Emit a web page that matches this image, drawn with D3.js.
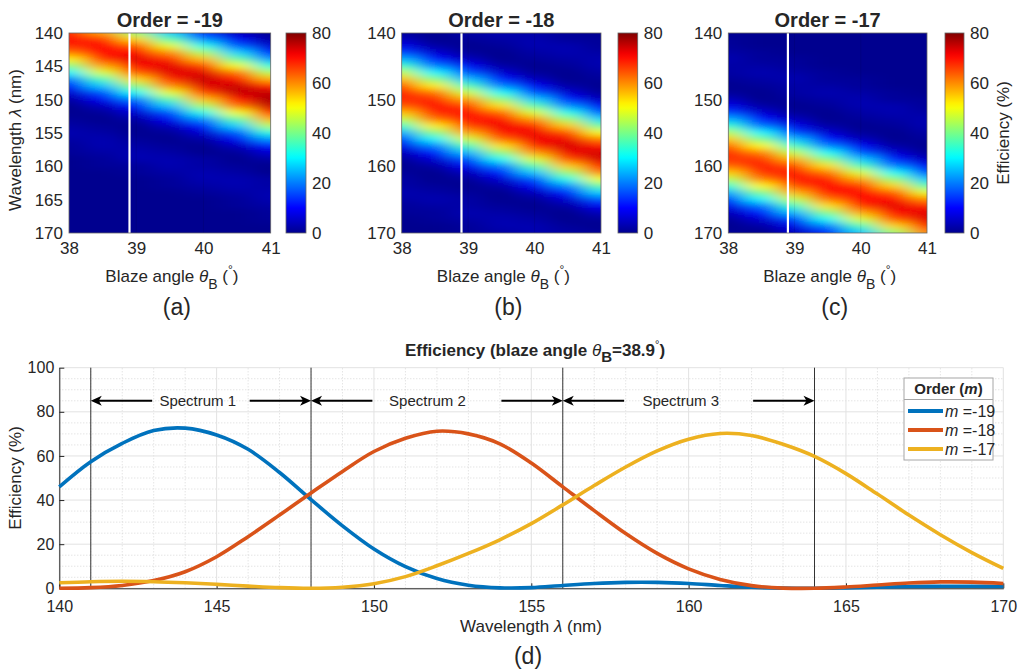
<!DOCTYPE html>
<html>
<head>
<meta charset="utf-8">
<script src="https://cdn.jsdelivr.net/npm/d3@7"></script>
<style>
body { margin: 0; background: #fff; }
text { font-family: "Liberation Sans", Arial, Helvetica, sans-serif; fill: #262626; }
</style>
</head>
<body>
<svg id="fig" width="1019" height="669"></svg>
<script>
// ---- heat map data: rows = wavelength (nm), columns = blaze angle (deg) ----
var blazeAngles = [38, 38.5, 39, 39.5, 40, 40.5, 41];
var mapWavelengths = [140, 141, 142, 143, 144, 145, 146, 147, 148, 149, 150, 151, 152, 153, 154, 155,
                      156, 157, 158, 159, 160, 161, 162, 163, 164, 165, 166, 167, 168, 169, 170];

var effOrder19 = [
  [68,58,42,26,12,4,0], [70,67,54,37,21,9,2], [68,71,64,49,32,17,6], [62,71,71,60,44,27,12],
  [52,67,73,68,56,38,22], [41,58,71,73,66,50,33], [30,48,64,73,73,62,45], [20,36,54,68,75,70,57],
  [11,26,42,60,73,75,68], [6,16,31,49,66,75,75], [2,9,20,37,56,70,77], [0,4,12,26,44,62,75],
  [0,1,6,16,32,50,68], [1,0,2,9,21,38,57], [2,1,0,4,12,27,45], [3,2,0,1,6,17,33],
  [2,3,1,0,2,9,22], [1,3,2,1,0,4,12], [1,2,3,2,0,1,6], [0,1,3,3,2,0,2],
  [0,1,1,3,2,1,0], [0,0,1,2,3,2,0], [0,0,0,1,3,3,2], [0,0,0,1,2,3,2],
  [0,0,0,0,1,2,3], [0,0,0,0,0,1,3], [0,0,0,0,0,1,2], [0,0,0,0,0,0,1],
  [0,0,0,0,0,0,1], [0,0,0,0,0,0,0], [0,0,0,0,0,0,0]
];
var effOrder18 = [
  [1,0,2,3,2,1,0], [4,0,1,2,3,1,1], [8,2,0,1,3,3,1], [15,6,1,0,2,3,2],
  [24,11,4,0,1,2,3], [35,20,9,2,0,1,3], [46,30,16,6,1,0,2], [56,41,25,12,4,0,1],
  [64,52,36,20,9,2,0], [68,62,47,31,16,6,1], [68,68,58,42,26,12,4], [64,70,66,53,37,21,9],
  [56,68,70,63,48,32,17], [46,62,70,70,59,43,27], [35,52,66,72,68,55,38], [24,41,58,70,72,65,50],
  [15,30,47,63,72,72,61], [8,20,36,53,68,74,69], [4,11,25,42,59,72,74], [1,6,16,31,48,65,74],
  [0,2,9,20,37,55,69], [1,0,4,12,26,43,61], [2,0,1,6,16,32,50], [2,1,0,2,9,21,38],
  [3,2,1,0,4,12,27], [2,3,2,0,1,6,17], [1,2,2,1,0,2,9], [1,1,3,2,1,0,4],
  [0,1,2,3,2,0,1], [0,0,1,3,3,1,0], [0,0,1,2,3,2,1]
];
var effOrder17 = [
  [0,0,0,0,0,0,0], [1,0,0,0,0,0,0], [1,0,0,0,0,0,0], [2,1,0,0,0,0,0],
  [3,1,1,0,0,0,0], [2,2,1,0,0,0,0], [2,3,2,1,0,0,0], [1,2,3,1,1,0,0],
  [0,1,2,2,1,0,0], [1,0,2,3,2,1,0], [4,0,1,2,3,1,1], [8,2,0,1,3,3,1],
  [15,6,1,0,2,3,2], [24,11,4,0,1,2,3], [34,19,8,2,0,1,3], [45,30,15,6,1,0,2],
  [55,40,25,11,4,0,1], [63,51,35,20,9,2,0], [67,61,46,31,16,6,1], [67,67,57,41,26,12,4],
  [63,69,65,53,36,20,9], [55,67,69,62,48,31,16], [45,61,69,69,58,42,26], [34,51,65,71,67,54,37],
  [24,40,57,69,71,64,49], [15,30,46,62,71,71,60], [8,19,35,53,67,73,68], [4,11,25,41,58,71,73],
  [1,6,15,31,48,64,73], [0,2,8,20,36,54,68], [1,0,4,11,26,42,60]
];

var orderTitles = ["Order = -19", "Order = -18", "Order = -17"];
var panelTags = ["(a)", "(b)", "(c)", "(d)"];
var mapXTicks = [38, 39, 40, 41];
var mapYTicksA = [140, 145, 150, 155, 160, 165, 170];
var mapYTicksBC = [140, 150, 160, 170];
var colorTicks = [0, 20, 40, 60, 80];
var selectedBlaze = 38.9;

// ---- line chart data (blaze angle 38.9 deg) ----
var wavelengths = [140, 141, 142, 143, 144, 145, 146, 147, 148, 149, 150, 151, 152, 153, 154, 155,
                   156, 157, 158, 159, 160, 161, 162, 163, 164, 165, 166, 167, 168, 169, 170];
var effM19 = [46, 57.4, 65.7, 71.5, 72.6, 69.5, 63, 52.5, 40.2, 28.3, 17.8, 9.8, 4.4, 1.4, 0.2, 0.3,
              1.3, 2.2, 2.7, 2.7, 2.2, 1.3, 0.5, 0.1, 0, 0.2, 0.5, 0.8, 0.9, 0.9, 0.8];
var effM18 = [0, 0.3, 1.3, 3.5, 7.5, 14.3, 23.4, 33.2, 43.2, 53, 62, 68, 71.2, 70, 65.5, 56.8,
              46, 35.2, 24.8, 15.8, 8.8, 4, 1.2, 0.1, 0, 0.6, 1.5, 2.4, 2.9, 2.8, 2.2];
var effM17 = [2.5, 3, 3.2, 3, 2.5, 1.8, 1, 0.3, 0, 0.5, 2.1, 5.3, 10.2, 15.8, 22, 29.3,
              37.8, 46.6, 55, 62.3, 67.6, 70.2, 69.3, 65.3, 59.8, 52, 42.7, 33.2, 24.3, 16.2, 9];
var seriesNames = ["=-19", "=-18", "=-17"];
var seriesColors = ["#0072bd", "#d95319", "#edb120"];
var lineXTicks = [140, 145, 150, 155, 160, 165, 170];
var lineYTicks = [0, 20, 40, 60, 80, 100];
var spectrumEdges = [141, 148, 156, 164];
var spectrumLabels = ["Spectrum 1", "Spectrum 2", "Spectrum 3"];
var spectrumLabelAt = [144.4, 151.7, 159.75];

var svg = d3.select("#fig");
var defs = svg.append("defs");

// MATLAB jet
var jet = d3.scaleLinear()
    .domain([0, 10, 30.5, 50.8, 71, 80])
    .range(["#00008f", "#0000ff", "#00ffff", "#ffff00", "#ff0000", "#800000"])
    .clamp(true);

var mapTop = 33, mapBottom = 233;
var panels = [
  {left: 69, right: 270.7, cbLeft: 286, cbRight: 306, data: effOrder19, yTicks: mapYTicksA},
  {left: 401.7, right: 601, cbLeft: 618, cbRight: 637.7, data: effOrder18, yTicks: mapYTicksBC},
  {left: 728.3, right: 927, cbLeft: 945, cbRight: 964, data: effOrder17, yTicks: mapYTicksBC}
];

// colour bar gradient
var grad = defs.append("linearGradient").attr("id", "jetGrad")
    .attr("x1", 0).attr("y1", 1).attr("x2", 0).attr("y2", 0);
grad.selectAll("stop").data(d3.range(0, 81, 2)).enter().append("stop")
    .attr("offset", function(d) { return d / 80; })
    .attr("stop-color", function(d) { return jet(d); });

panels.forEach(function(p, i) {
  var x = d3.scaleLinear().domain([38, 41]).range([p.left, p.right]);
  var y = d3.scaleLinear().domain([140, 170]).range([mapTop, mapBottom]);
  var g = svg.append("g");

  defs.append("clipPath").attr("id", "clip" + i)
    .append("rect")
      .attr("x", p.left).attr("y", mapTop)
      .attr("width", p.right - p.left).attr("height", mapBottom - mapTop);
  var filt = defs.append("filter").attr("id", "smooth" + i)
      .attr("filterUnits", "userSpaceOnUse")
      .attr("x", p.left - 70).attr("y", mapTop - 70)
      .attr("width", p.right - p.left + 140).attr("height", mapBottom - mapTop + 140);
  filt.append("feGaussianBlur").attr("stdDeviation", "11 3");

  var cells = [];
  p.data.forEach(function(row, r) {
    row.forEach(function(v, c) { cells.push({r: r, c: c, v: v}); });
  });
  var hA = (blazeAngles[1] - blazeAngles[0]) / 2;
  var hW = (mapWavelengths[1] - mapWavelengths[0]) / 2;
  var nC = blazeAngles.length - 1, nR = mapWavelengths.length - 1;

  g.append("g").attr("clip-path", "url(#clip" + i + ")")
    .append("g").attr("filter", "url(#smooth" + i + ")")
    .selectAll("rect").data(cells).enter().append("rect")
      .attr("x", function(d) { return x(blazeAngles[d.c] - hA) - (d.c === 0 ? 60 : 0.5); })
      .attr("width", function(d) {
        var w = x(blazeAngles[d.c] + hA) - x(blazeAngles[d.c] - hA) + 1;
        if (d.c === 0) w += 60;
        if (d.c === nC) w += 60;
        return w;
      })
      .attr("y", function(d) { return y(mapWavelengths[d.r] - hW) - (d.r === 0 ? 60 : 0.5); })
      .attr("height", function(d) {
        var h = y(mapWavelengths[d.r] + hW) - y(mapWavelengths[d.r] - hW) + 1;
        if (d.r === 0) h += 60;
        if (d.r === nR) h += 60;
        return h;
      })
      .attr("fill", function(d) { return jet(d.v); });

  // faint grid
  g.selectAll(".gx").data(mapXTicks.slice(1, -1)).enter().append("line")
      .attr("x1", function(d) { return x(d); }).attr("x2", function(d) { return x(d); })
      .attr("y1", mapTop).attr("y2", mapBottom)
      .attr("stroke", "#000").attr("stroke-opacity", 0.12).attr("stroke-width", 0.8);

  // selected blaze angle
  g.append("line")
      .attr("x1", x(selectedBlaze)).attr("x2", x(selectedBlaze))
      .attr("y1", mapTop).attr("y2", mapBottom)
      .attr("stroke", "#fff").attr("stroke-width", 2.2);

  g.append("rect")
      .attr("x", p.left).attr("y", mapTop)
      .attr("width", p.right - p.left).attr("height", mapBottom - mapTop)
      .attr("fill", "none").attr("stroke", "#666").attr("stroke-width", 0.8);

  var xa = g.append("g").attr("transform", "translate(0," + mapBottom + ")")
      .call(d3.axisBottom(x).tickValues(mapXTicks).tickSize(0).tickPadding(9).tickFormat(d3.format("d")));
  xa.select(".domain").remove();
  xa.selectAll("text").style("font-size", "17px").attr("fill", "#262626");

  var ya = g.append("g").attr("transform", "translate(" + p.left + ",0)")
      .call(d3.axisLeft(y).tickValues(p.yTicks).tickSize(0).tickPadding(6).tickFormat(d3.format("d")));
  ya.select(".domain").remove();
  ya.selectAll("text").style("font-size", "17px").attr("fill", "#262626");

  var cx = (p.left + p.right) / 2;
  g.append("text").attr("x", cx).attr("y", 27).attr("text-anchor", "middle")
      .style("font-size", "20px").style("font-weight", "bold").attr("fill", "#000")
      .text(orderTitles[i]);

  var xl = g.append("text").attr("x", cx + 2).attr("y", 282).attr("text-anchor", "middle")
      .style("font-size", "17px");
  xl.append("tspan").text("Blaze angle ");
  xl.append("tspan").style("font-style", "italic").text("\u03B8");
  xl.append("tspan").attr("dy", 7).style("font-size", "14px").text("B");
  xl.append("tspan").attr("dy", -7).text(" (");
  xl.append("tspan").attr("dy", -8).style("font-size", "12px").text("\u00B0");
  xl.append("tspan").attr("dy", 8).text(")");

  g.append("text").attr("x", cx + 7).attr("y", 315).attr("text-anchor", "middle")
      .style("font-size", "23px").text(panelTags[i]);

  // colour bar
  var cy = d3.scaleLinear().domain([0, 80]).range([mapBottom, mapTop]);
  g.append("rect")
      .attr("x", p.cbLeft).attr("y", mapTop)
      .attr("width", p.cbRight - p.cbLeft).attr("height", mapBottom - mapTop)
      .attr("fill", "url(#jetGrad)").attr("stroke", "#666").attr("stroke-width", 0.8);
  var ca = g.append("g").attr("transform", "translate(" + p.cbRight + ",0)")
      .call(d3.axisRight(cy).tickValues(colorTicks).tickSize(0).tickPadding(6));
  ca.select(".domain").remove();
  ca.selectAll("text").style("font-size", "17px").attr("fill", "#262626");
});

// y label of (a) and colour bar label of (c)
svg.append("text").attr("transform", "translate(21,140) rotate(-90)")
    .attr("text-anchor", "middle").style("font-size", "17px")
    .call(function(t) {
      t.append("tspan").text("Wavelength ");
      t.append("tspan").style("font-style", "italic").text("\u03BB");
      t.append("tspan").text(" (nm)");
    });
svg.append("text").attr("transform", "translate(1009,133) rotate(-90)")
    .attr("text-anchor", "middle").style("font-size", "17px")
    .text("Efficiency (%)");

// ---- line chart (d) ----
var lx = d3.scaleLinear().domain([140, 170]).range([59.3, 1003.3]);
var ly = d3.scaleLinear().domain([0, 100]).range([588.3, 367.7]);
var lg = svg.append("g");

var minorX = d3.range(140, 171, 1).filter(function(d) { return d % 5 !== 0; });
var minorY = d3.range(0, 101, 5).filter(function(d) { return d % 20 !== 0; });
lg.selectAll(".mx").data(minorX).enter().append("line")
    .attr("x1", function(d) { return lx(d); }).attr("x2", function(d) { return lx(d); })
    .attr("y1", ly(0)).attr("y2", ly(100))
    .attr("stroke", "#cfcfcf").attr("stroke-width", 0.8).attr("stroke-dasharray", "1,2");
lg.selectAll(".my").data(minorY).enter().append("line")
    .attr("y1", function(d) { return ly(d); }).attr("y2", function(d) { return ly(d); })
    .attr("x1", lx(140)).attr("x2", lx(170))
    .attr("stroke", "#cfcfcf").attr("stroke-width", 0.8).attr("stroke-dasharray", "1,2");
lg.selectAll(".gx").data(lineXTicks).enter().append("line")
    .attr("x1", function(d) { return lx(d); }).attr("x2", function(d) { return lx(d); })
    .attr("y1", ly(0)).attr("y2", ly(100))
    .attr("stroke", "#e2e2e2").attr("stroke-width", 1);
lg.selectAll(".gy").data(lineYTicks).enter().append("line")
    .attr("y1", function(d) { return ly(d); }).attr("y2", function(d) { return ly(d); })
    .attr("x1", lx(140)).attr("x2", lx(170))
    .attr("stroke", "#e2e2e2").attr("stroke-width", 1);

var xAxis = lg.append("g").attr("transform", "translate(0," + ly(0) + ")")
    .call(d3.axisBottom(lx).tickValues(lineXTicks).tickSizeInner(-5).tickSizeOuter(0).tickPadding(12));
var yAxis = lg.append("g").attr("transform", "translate(" + lx(140) + ",0)")
    .call(d3.axisLeft(ly).tickValues(lineYTicks).tickSizeInner(-5).tickSizeOuter(0).tickPadding(5));
[xAxis, yAxis].forEach(function(a) {
  a.select(".domain").attr("stroke", "#262626");
  a.selectAll(".tick line").attr("stroke", "#262626");
  a.selectAll("text").style("font-size", "16px").attr("fill", "#262626");
});

// spectrum boundaries and arrows
lg.selectAll(".edge").data(spectrumEdges).enter().append("line")
    .attr("x1", function(d) { return lx(d); }).attr("x2", function(d) { return lx(d); })
    .attr("y1", ly(0)).attr("y2", ly(100))
    .attr("stroke", "#333").attr("stroke-width", 1);

var arrowY = ly(85);
var arrowLen = 1.95;
spectrumLabels.forEach(function(lab, i) {
  var a = spectrumEdges[i], b = spectrumEdges[i + 1];
  [[a, a + arrowLen, -1], [b - arrowLen, b, 1]].forEach(function(s) {
    var x0 = lx(s[0]), x1 = lx(s[1]);
    var tip = s[2] < 0 ? x0 : x1;
    var dir = s[2];
    lg.append("line")
        .attr("x1", s[2] < 0 ? x0 + 6 : x0).attr("x2", s[2] < 0 ? x1 : x1 - 6)
        .attr("y1", arrowY).attr("y2", arrowY)
        .attr("stroke", "#000").attr("stroke-width", 2);
    lg.append("path")
        .attr("d", "M" + tip + "," + arrowY +
                   "L" + (tip - dir * 11) + "," + (arrowY - 5) +
                   "L" + (tip - dir * 8) + "," + arrowY +
                   "L" + (tip - dir * 11) + "," + (arrowY + 5) + "Z")
        .attr("fill", "#000");
  });
  lg.append("text").attr("x", lx(spectrumLabelAt[i])).attr("y", arrowY + 5.5)
      .attr("text-anchor", "middle").style("font-size", "15px").attr("fill", "#000")
      .text(lab);
});

// curves
var series = [effM19, effM18, effM17];
var line = d3.line()
    .x(function(d, i) { return lx(wavelengths[i]); })
    .y(function(d) { return ly(d); })
    .curve(d3.curveCatmullRom.alpha(0.5));
series.forEach(function(s, i) {
  lg.append("path").datum(s)
      .attr("d", line)
      .attr("fill", "none")
      .attr("stroke", seriesColors[i])
      .attr("stroke-width", 3.6)
      .attr("stroke-linejoin", "round");
});

// legend
var leg = lg.append("g");
leg.append("rect").attr("x", 904).attr("y", 378).attr("width", 89).attr("height", 82)
    .attr("fill", "#fff").attr("stroke", "#a6a6a6").attr("stroke-width", 1);
leg.append("line").attr("x1", 904).attr("x2", 993).attr("y1", 399.5).attr("y2", 399.5)
    .attr("stroke", "#a6a6a6").attr("stroke-width", 1);
var lt = leg.append("text").attr("x", 948.5).attr("y", 394).attr("text-anchor", "middle")
    .style("font-size", "15px").style("font-weight", "bold").attr("fill", "#000");
lt.append("tspan").text("Order (");
lt.append("tspan").style("font-style", "italic").text("m");
lt.append("tspan").text(")");
seriesNames.forEach(function(n, i) {
  var yy = 411 + i * 19;
  leg.append("line").attr("x1", 908).attr("x2", 943).attr("y1", yy).attr("y2", yy)
      .attr("stroke", seriesColors[i]).attr("stroke-width", 4);
  var t = leg.append("text").attr("x", 945).attr("y", yy + 6).style("font-size", "16px");
  t.append("tspan").style("font-style", "italic").text("m");
  t.append("tspan").text(" " + n);
});

// titles and labels of (d)
var tt = lg.append("text").attr("x", 535).attr("y", 356).attr("text-anchor", "middle")
    .style("font-size", "17px").style("font-weight", "bold").attr("fill", "#000");
tt.append("tspan").text("Efficiency (blaze angle  ");
tt.append("tspan").style("font-style", "italic").style("font-weight", "normal").text("\u03B8");
tt.append("tspan").attr("dy", 6).style("font-size", "15px").text("B");
tt.append("tspan").attr("dy", -6).text("=38.9");
tt.append("tspan").attr("dy", -8).style("font-size", "11px").style("font-weight", "normal").text("\u00B0");
tt.append("tspan").attr("dy", 8).text(")");

var xl = lg.append("text").attr("x", 531).attr("y", 632).attr("text-anchor", "middle")
    .style("font-size", "17px");
xl.append("tspan").text("Wavelength ");
xl.append("tspan").style("font-style", "italic").text("\u03BB");
xl.append("tspan").text(" (nm)");

lg.append("text").attr("transform", "translate(21,478) rotate(-90)")
    .attr("text-anchor", "middle").style("font-size", "17px")
    .text("Efficiency (%)");

lg.append("text").attr("x", 528).attr("y", 664).attr("text-anchor", "middle")
    .style("font-size", "23px").text(panelTags[3]);
</script>
</body>
</html>
